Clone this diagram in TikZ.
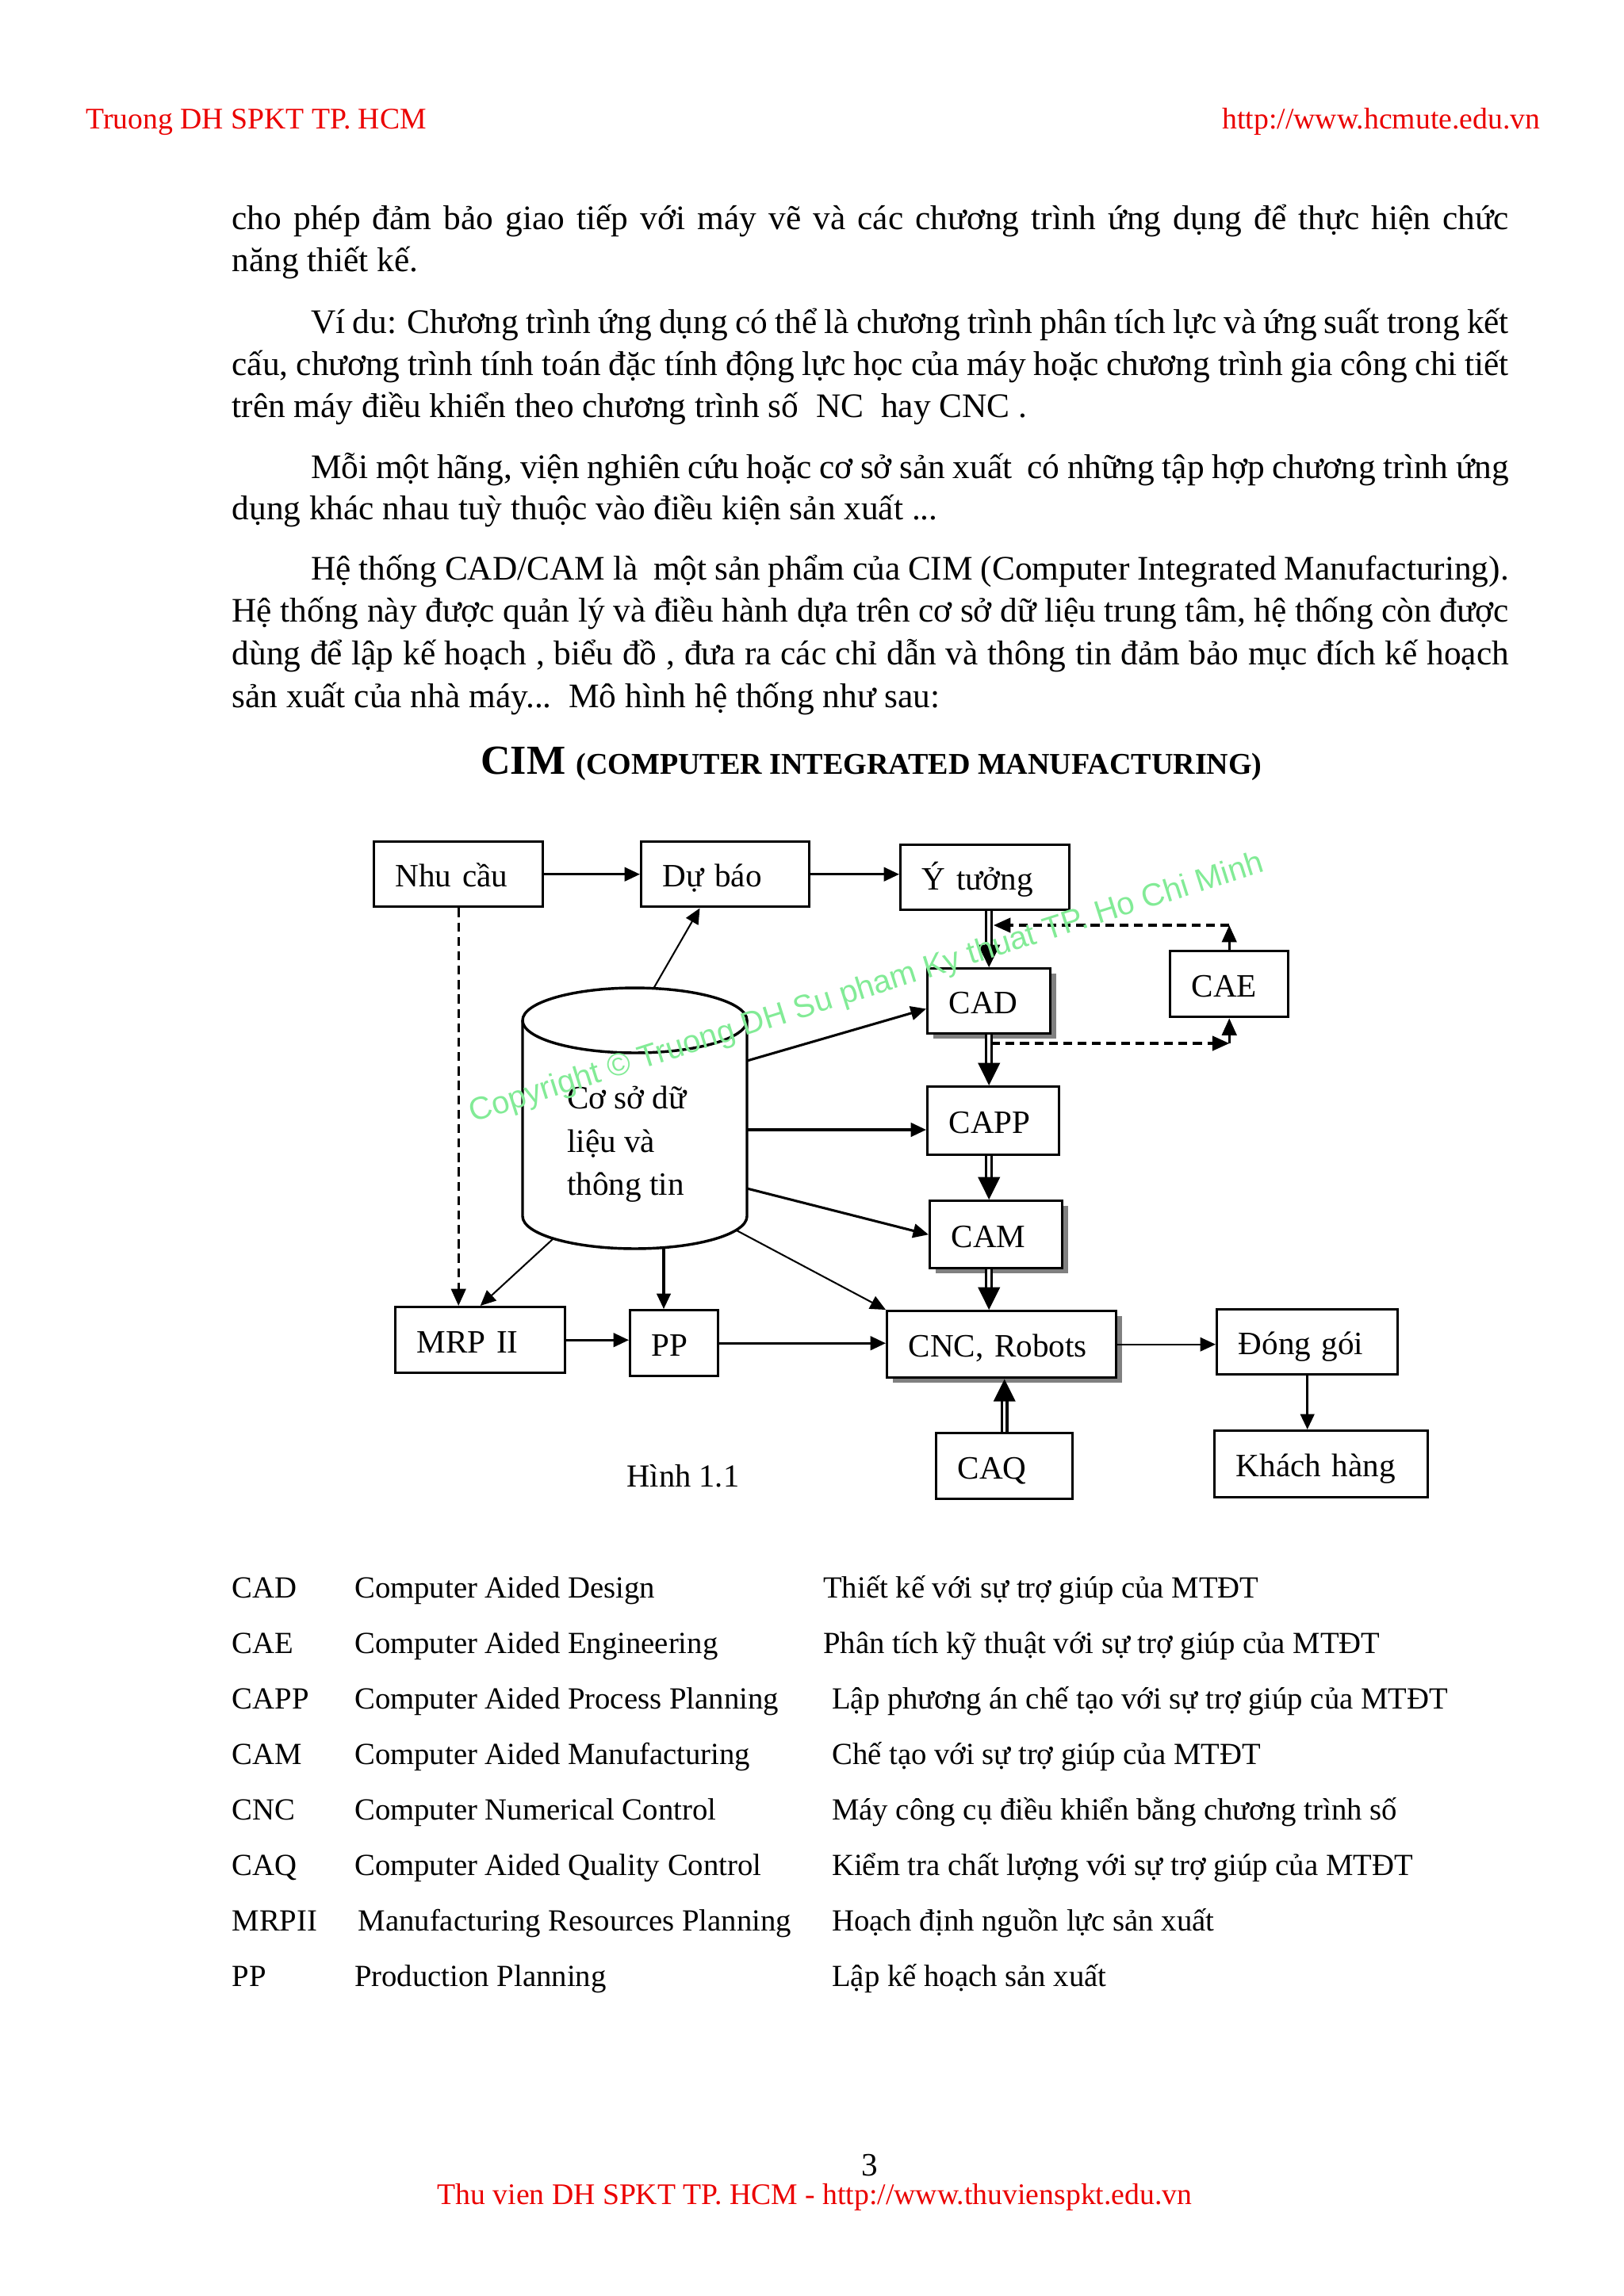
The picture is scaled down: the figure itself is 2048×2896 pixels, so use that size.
\documentclass[tikz,border=0pt]{standalone}
\usepackage{fontspec}
\setmainfont{Liberation Serif}
\newfontfamily\wmfont{Liberation Sans}
\usetikzlibrary{arrows.meta,shadows}
\definecolor{HeadRed}{RGB}{235,0,0}
\definecolor{MarkGreen}{RGB}{130,235,150}

\begin{document}
\begin{tikzpicture}[
    x=0.0102539cm, y=-0.0102539cm,
    box/.style={
        rectangle, draw, line width=1pt, fill=white,
        anchor=north west, align=left,
        inner xsep=0.277cm, inner ysep=0pt,
        text height=9.4pt, text depth=0pt,
        font=\fontsize{12}{14}\selectfont
    },
    shbox/.style={box,
        drop shadow={shadow xshift=0.07cm, shadow yshift=-0.06cm, fill=black!50, opacity=1}},
    txt/.style={anchor=base west, inner sep=0pt, font=\fontsize{12.65}{15}\selectfont},
    tbl/.style={anchor=base west, inner sep=0pt, font=\fontsize{11.3}{13}\selectfont},
    hdr/.style={inner sep=0pt, text=HeadRed, font=\fontsize{11}{13}\selectfont},
    arrow/.style={-{Triangle[length=2mm, width=1.8mm]}, line width=0.9pt},
    thinarrow/.style={-{Triangle[length=2mm, width=1.8mm]}, line width=0.6pt},
    dblarrow/.style={double, double distance=1pt, line width=0.9pt,
        -{Triangle[length=2.9mm, width=2.8mm]}},
    dasharrow/.style={dash pattern=on 3.3pt off 2pt, line width=0.9pt,
        -{Triangle[length=2.2mm, width=1.9mm]}}
]
\useasboundingbox (0,0) rectangle (2048,2896);
\fill[white] (0,0) rectangle (2048,2896);

% page head and body text
\node[hdr, anchor=base west] (headl) at (108,162) {Truong DH SPKT TP. HCM};
\node[hdr, anchor=base east] (headr) at (1943,162) {http://www.hcmute.edu.vn};

\node[txt] (p1) at (292,289) {\makebox[16.51cm][s]{cho phép đảm bảo giao tiếp với máy vẽ và các chương trình ứng dụng để thực hiện chức}};
\node[txt] (p2) at (292,342.5) {năng thiết kế.};
\node[txt] (p3) at (391.5,420) {\makebox[15.49cm][s]{Ví du: Chương trình ứng dụng có thể là chương trình phân tích lực và ứng suất trong kết}};
\node[txt] (p4) at (292,473) {\makebox[16.51cm][s]{cấu, chương trình tính toán đặc tính động lực học của máy hoặc chương trình gia công chi tiết}};
\node[txt] (p5) at (292,526) {trên máy điều khiển theo chương trình số\ \ NC\ \ hay CNC .};
\node[txt] (p6) at (391.5,603) {\makebox[15.49cm][s]{Mỗi một hãng, viện nghiên cứu hoặc cơ sở sản xuất\ \ có những tập hợp chương trình ứng}};
\node[txt] (p7) at (292,655) {dụng khác nhau tuỳ thuộc vào điều kiện sản xuất ...};
\node[txt] (p8) at (391.5,731) {\makebox[15.49cm][s]{Hệ thống CAD/CAM là\ \ một sản phẩm của CIM (Computer Integrated Manufacturing).}};
\node[txt] (p9) at (292,784.5) {\makebox[16.51cm][s]{Hệ thống này được quản lý và điều hành dựa trên cơ sở dữ liệu trung tâm, hệ thống còn được}};
\node[txt] (p10) at (292,838) {\makebox[16.51cm][s]{dùng để lập kế hoạch , biểu đồ , đưa ra các chỉ dẫn và thông tin đảm bảo mục đích kế hoạch}};
\node[txt] (p11) at (292,892) {sản xuất của nhà máy...\ \ Mô hình hệ thống như sau:};

\node[anchor=base, inner sep=0pt] (title) at (1099,976) {\fontsize{15.2}{18}\selectfont\bfseries CIM \fontsize{11.1}{13}\selectfont(COMPUTER INTEGRATED MANUFACTURING)};

% diagram
\node[box, text width=1.63cm, minimum height=0.841cm] (nhu) at (470,1060) {Nhu cầu};
\node[box, text width=1.62cm, minimum height=0.841cm] (dubao) at (807,1060) {Dự báo};
\node[box, text width=1.63cm, minimum height=0.841cm] (ytuong) at (1134,1064) {Ý tưởng};
\node[shbox, text width=1.035cm, minimum height=0.841cm] (cad) at (1168,1220) {CAD};
\node[box, text width=0.974cm, minimum height=0.851cm] (cae) at (1474,1198) {CAE};
\node[box, text width=1.148cm, minimum height=0.882cm] (capp) at (1168,1369) {CAPP};
\node[shbox, text width=1.158cm, minimum height=0.872cm] (cam) at (1171,1513) {CAM};
\node[shbox, text width=2.409cm, minimum height=0.861cm] (cnc) at (1117,1652) {CNC, Robots};
\node[box, text width=1.64cm, minimum height=0.851cm] (mrp) at (497,1647) {MRP II};
\node[box, text width=0.584cm, minimum height=0.851cm] (pp) at (793,1651) {PP};
\node[box, text width=1.784cm, minimum height=0.841cm] (dong) at (1533,1650) {Đóng gói};
\node[box, text width=2.204cm, minimum height=0.861cm] (khach) at (1530,1803) {Khách hàng};
\node[box, text width=1.21cm, minimum height=0.851cm] (caq) at (1179,1806) {CAQ};

\filldraw[fill=white, line width=1pt] (659,1287) -- (659,1534)
    arc[start angle=180, end angle=360, x radius=1.451cm, y radius=0.42cm] -- (942,1287);
\filldraw[fill=white, line width=1pt] (800.5,1287) ellipse [x radius=1.451cm, y radius=0.42cm];
\node[anchor=north west, align=left, inner sep=0pt, font=\fontsize{12}{15.9}\selectfont] (db) at (714.5,1357)
    {\rule{0pt}{12pt}Cơ sở dữ\\liệu và\\thông tin};

\coordinate (dbtop) at (824,1247);
\coordinate (dbcad) at (942,1338);
\coordinate (dbcapp) at (942,1425);
\coordinate (dbcam) at (942,1499);
\coordinate (dbcnc) at (929,1552);
\coordinate (dbpp) at (837,1574);
\coordinate (dbmrp) at (697,1563);
\coordinate (cadout) at (1250,1316);
\coordinate (ytback) at (1253,1167);

\draw[arrow] (nhu.east) -- (dubao.west);
\draw[arrow] (dubao.east) -- (dubao.east -| ytuong.west);
\draw[thinarrow] (dbtop) -- (dubao.-127);
\draw[dasharrow] (nhu.south) -- (nhu.south |- mrp.north);
\draw[thinarrow] (dbmrp) -- (mrp.north);
\draw[arrow] (dbpp) -- (dbpp |- pp.north);
\draw[arrow] (mrp.east) -- (mrp.east -| pp.west);
\draw[arrow] (pp.east) -- (pp.east -| cnc.west);
\draw[arrow] (dbcad) -- (cad.-173);
\draw[arrow] (dbcapp) -- (dbcapp -| capp.west);
\draw[arrow] (dbcam) -- (cam.west);
\draw[thinarrow] (dbcnc) -- (cnc.north west);
\draw[dblarrow] (cad.north |- ytuong.south) -- (cad.north);
\draw[dblarrow] (cad.south) -- (capp.north -| cad.south);
\draw[dblarrow] (capp.south -| cad.south) -- (cam.north -| cad.south);
\draw[dblarrow] (cam.south -| cad.south) -- (cnc.north -| cad.south);
\draw[dblarrow] (caq.north) -- (cnc.south -| caq.north);
\draw[thinarrow] (cnc.east) -- (cnc.east -| dong.west);
\draw[arrow] (dong.south) -- (dong.south |- khach.north);
\draw[dasharrow] (cadout) -- (cadout -| cae.south);
\draw[dasharrow] (cadout -| cae.south) -- (cae.south);
\draw[dasharrow] (cae.north) -- (cae.north |- ytback);
\draw[dasharrow] (cae.north |- ytback) -- (ytback);

\node[anchor=base west, inner sep=0pt, font=\fontsize{11.8}{14}\selectfont] (fig) at (790,1875) {Hình 1.1};

\node[anchor=base west, rotate=17.6, inner sep=0pt, text=MarkGreen,
    font=\wmfont\fontsize{11.7}{14}\selectfont] (mark) at (596,1416)
    {Copyright © Truong DH Su pham Ky thuat TP. Ho Chi Minh};

% abbreviations
\node[tbl] (a1) at (292,2015) {CAD};
\node[tbl] (b1) at (446.5,2015) {Computer Aided Design};
\node[tbl] (c1) at (1037.6,2015) {Thiết kế với sự trợ giúp của MTĐT};
\node[tbl] (a2) at (292,2085) {CAE};
\node[tbl] (b2) at (446.5,2085) {Computer Aided Engineering};
\node[tbl] (c2) at (1037.6,2085) {Phân tích kỹ thuật với sự trợ giúp của MTĐT};
\node[tbl] (a3) at (292,2155) {CAPP};
\node[tbl] (b3) at (446.5,2155) {Computer Aided Process Planning};
\node[tbl] (c3) at (1048.5,2155) {Lập phương án chế tạo với sự trợ giúp của MTĐT};
\node[tbl] (a4) at (292,2225) {CAM};
\node[tbl] (b4) at (446.5,2225) {Computer Aided Manufacturing};
\node[tbl] (c4) at (1048.5,2225) {Chế tạo với sự trợ giúp của MTĐT};
\node[tbl] (a5) at (292,2295) {CNC};
\node[tbl] (b5) at (446.5,2295) {Computer Numerical Control};
\node[tbl] (c5) at (1048.5,2295) {Máy công cụ điều khiển bằng chương trình số};
\node[tbl] (a6) at (292,2365) {CAQ};
\node[tbl] (b6) at (446.5,2365) {Computer Aided Quality Control};
\node[tbl] (c6) at (1048.5,2365) {Kiểm tra chất lượng với sự trợ giúp của MTĐT};
\node[tbl] (a7) at (292,2435) {MRPII};
\node[tbl] (b7) at (451,2435) {Manufacturing Resources Planning};
\node[tbl] (c7) at (1048.5,2435) {Hoạch định nguồn lực sản xuất};
\node[tbl] (a8) at (292,2505) {PP};
\node[tbl] (b8) at (446.5,2505) {Production Planning};
\node[tbl] (c8) at (1048.5,2505) {Lập kế hoạch sản xuất};

% page foot
\node[anchor=base, inner sep=0pt, font=\fontsize{12}{14}\selectfont] (pageno) at (1097,2744) {3};
\node[hdr, anchor=base] (foot) at (1027.5,2780) {Thu vien DH SPKT TP. HCM - http://www.thuvienspkt.edu.vn};

\end{tikzpicture}
\end{document}
